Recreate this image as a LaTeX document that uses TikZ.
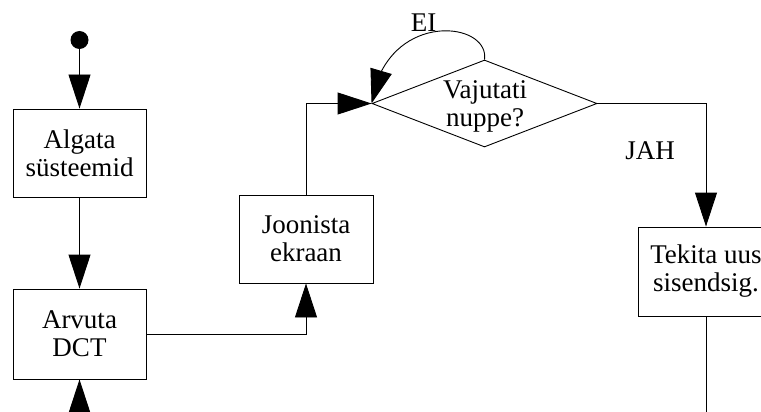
\documentclass[tikz,border=0pt]{standalone}
\usepackage{fontspec}
\setmainfont{Liberation Serif}
\usetikzlibrary{arrows.meta,shapes.geometric,bending}
\begin{document}
\begin{tikzpicture}[x=1pt,y=-1pt,
  every node/.style={font=\fontsize{27}{28}\selectfont},
  stepbox/.style={draw, line width=0.9pt, rectangle, align=center, inner sep=0pt},
  conn/.style={line width=0.9pt, -{Triangle[length=34pt,width=22pt]}},
  plain/.style={line width=0.9pt},
  lbl/.style={anchor=base, inner sep=0pt}]
\fill[white] (0,0) rectangle (761,412);
\useasboundingbox (0,0) rectangle (761,412);
\clip (0,0) rectangle (761,412);
% nodes
\node[circle, fill, minimum size=18pt, inner sep=0pt] (s) at (79.5,40) {};
\node[stepbox, minimum width=133pt, minimum height=88pt] (b1) at (79.5,153) {Algata\\süsteemid};
\node[stepbox, minimum width=133pt, minimum height=90pt] (b2) at (79.5,334) {Arvuta\\DCT};
\node[stepbox, minimum width=134pt, minimum height=88pt] (b3) at (306,239) {Joonista\\ekraan};
\node[stepbox, minimum width=136pt, minimum height=89pt] (b4) at (706,271.5) {Tekita uus\\sisendsig.};
\node[diamond, draw, line width=0.9pt, minimum width=225pt, minimum height=87pt, inner sep=0pt] (d) at (484.5,103.5) {};
\node[align=center, inner sep=0pt] (dt) at (485,106.5) {Vajutati\\nuppe?};
\coordinate (botl) at (79.5,450);
\coordinate (botr) at (706,450);
% labels
\node[lbl] (ei) at (423.5,32) {EI};
\node[lbl] (jah) at (650,159) {JAH};
% connectors
\draw[conn] (s) -- (b1.north);
\draw[conn] (b1.south) -- (b2.north);
\draw[conn] (botl) -- (b2.south);
\draw[conn] (b2.east) -| (b3.south);
\draw[conn] (b3.north) |- (d.west);
\draw[conn] (d.north) .. controls (490,20) and (385,10) .. (d.west);
\draw[conn] (d.east) -| (b4.north);
\draw[plain] (b4.south) -- (botr);
\end{tikzpicture}
\end{document}
